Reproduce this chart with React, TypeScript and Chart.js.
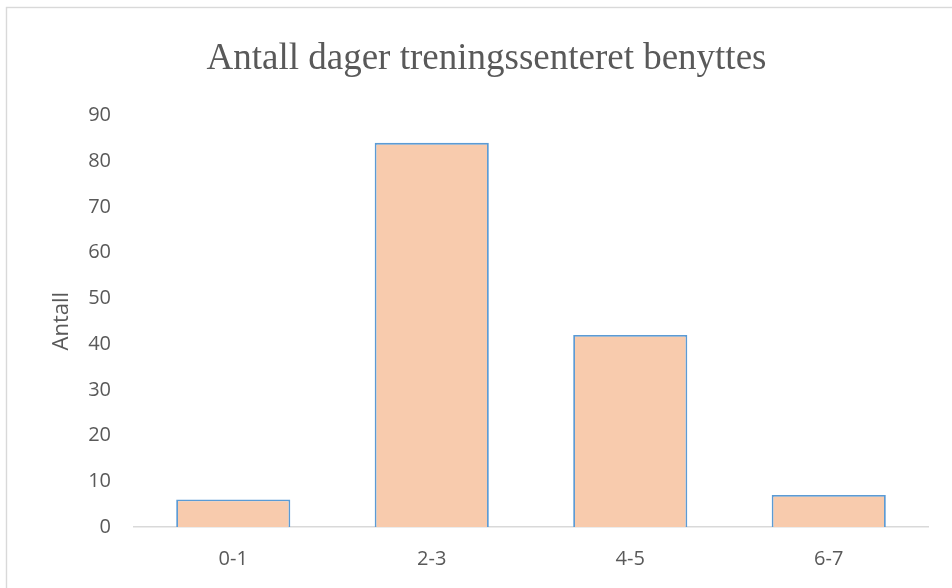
import React, { useEffect, useRef } from "react";
import { Chart, registerables } from "chart.js";

Chart.register(...registerables);

const categories = ["0-1", "2-3", "4-5", "6-7"];
const counts = [6, 84, 42, 7];
const yTicks = [0, 10, 20, 30, 40, 50, 60, 70, 80, 90];
const chartTitle = "Antall dager treningssenteret benyttes";
const yTitle = "Antall";

const TEXT = "#595959";
const SANS = "'Open Sans', 'Noto Sans', sans-serif";

// thin light frame around the whole chart
const framePlugin = {
  id: "frame",
  beforeDraw(chart: Chart) {
    const ctx = chart.ctx;
    ctx.save();
    ctx.strokeStyle = "#d9d9d9";
    ctx.lineWidth = 1.4;
    ctx.strokeRect(6.5, 7.5, chart.width + 20, chart.height + 20);
    ctx.restore();
  },
};

export default function App() {
  const ref = useRef<HTMLCanvasElement | null>(null);

  useEffect(() => {
    if (!ref.current) return;
    const chart = new Chart(ref.current, {
      type: "bar",
      data: {
        labels: categories,
        datasets: [
          {
            data: counts,
            backgroundColor: "#F8CBAD",
            borderColor: "#5B9BD5",
            borderWidth: 1.8,
            barPercentage: 0.575,
            categoryPercentage: 1,
          },
        ],
      },
      plugins: [framePlugin],
      options: {
        responsive: false,
        animation: false,
        layout: { padding: { left: 45, right: 24, top: 0, bottom: 0 } },
        plugins: {
          legend: { display: false },
          tooltip: { enabled: false },
          title: {
            display: true,
            text: chartTitle,
            color: TEXT,
            font: { family: "'Liberation Serif', 'Times New Roman', serif", size: 37, weight: "normal" },
            padding: { top: 37, bottom: 34 },
          },
        },
        scales: {
          x: {
            grid: { display: false, drawTicks: false },
            border: { display: true, color: "#d9d9d9", width: 1.4 },
            ticks: { color: TEXT, font: { family: SANS, size: 20 }, padding: 20 },
            afterFit(scale: any) {
              scale.height = 61;
            },
          },
          y: {
            min: 0,
            max: 90,
            afterBuildTicks(scale: any) {
              scale.ticks = yTicks.map((v) => ({ value: v }));
            },
            grid: { display: false, drawTicks: false },
            border: { display: false },
            ticks: { color: TEXT, font: { family: SANS, size: 20 }, padding: 23 },
            title: {
              display: true,
              text: yTitle,
              color: TEXT,
              font: { family: SANS, size: 22 },
              padding: { top: 4, bottom: 0 },
            },
            afterFit(scale: any) {
              scale.width = 89;
            },
          },
        },
      },
    });
    return () => chart.destroy();
  }, []);

  return (
    <div style={{ position: "absolute", left: 0, top: 0, width: 952, height: 588, background: "#fff" }}>
      <canvas ref={ref} width={952} height={588} />
    </div>
  );
}
